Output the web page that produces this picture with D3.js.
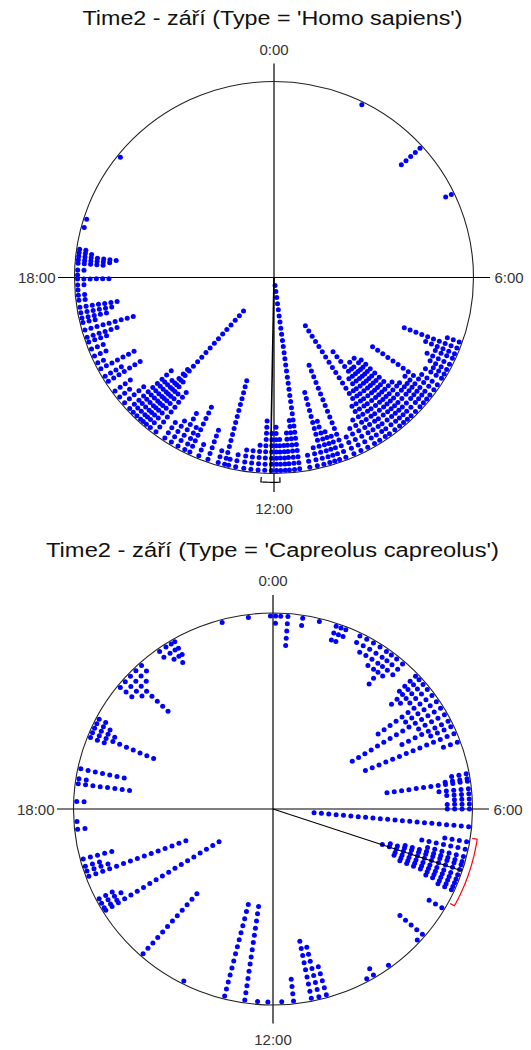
<!DOCTYPE html>
<html>
<head>
<meta charset="utf-8">
<script src="https://cdn.jsdelivr.net/npm/d3@7"></script>
<style>
body { margin: 0; background: #fff; }
text { font-family: 'Liberation Sans', Arial, sans-serif; }
</style>
</head>
<body>
<svg id="chart" width="531" height="1050"></svg>
<script>
var titles = ["Time2 - září (Type = 'Homo sapiens')", "Time2 - září (Type = 'Capreolus capreolus')"]
var hourLabels = ['0:00', '6:00', '12:00', '18:00']
var labelHours = [0, 6, 12, 18]

// Homo sapiens: bin (hour of day) and number of records stacked in it
var humanHours = [1.77, 3.2, 4.3,
    7.3, 7.43, 7.55, 7.65, 7.78, 7.9, 8.0, 8.1, 8.25, 8.37, 8.5, 8.6, 8.7, 8.8, 8.93,
    9.05, 9.15, 9.25, 9.35, 9.47, 9.6, 9.7, 9.83, 9.95, 10.1, 10.25, 10.4, 10.57, 10.7,
    10.8, 10.9, 11.02, 11.15, 11.3, 11.5, 11.6, 11.7, 11.78, 11.87, 11.95,
    12.05, 12.18, 12.31, 12.45, 12.59, 12.75, 12.89, 12.97, 13.1, 13.31, 13.5, 13.69,
    13.8, 13.95, 14.1, 14.25, 14.46, 14.6, 14.7, 14.78, 14.85, 14.95, 15.05, 15.15,
    15.3, 15.45, 15.6, 15.83, 15.95, 16.12, 16.25, 16.4, 16.55, 16.7, 16.8, 16.95,
    17.1, 17.19, 17.3, 17.41, 17.55, 17.65, 17.75, 17.85, 17.97, 18.05, 18.15, 18.28,
    18.35, 18.42, 18.49, 18.56, 19.0, 19.17, 20.57]
var humanCounts = [1, 5, 2,
    3, 10, 6, 4, 5, 4, 3, 4, 4, 13, 6, 5, 6, 7, 13,
    14, 12, 14, 13, 17, 12, 10, 23, 8, 6, 5, 4, 17, 5,
    6, 8, 13, 4, 3, 31, 9, 7, 5, 6, 8,
    7, 9, 5, 4, 4, 3, 2, 15, 3, 6, 3, 9,
    5, 7, 5, 4, 9, 8, 10, 25, 12, 9, 8, 10,
    5, 3, 4, 7, 4, 7, 2, 3, 3, 4, 6, 9,
    3, 5, 6, 7, 2, 2, 1, 2, 6, 1, 2, 5,
    6, 7, 3, 2, 1, 1, 1]

// Capreolus capreolus
var roeHours = [0.05, 0.15, 0.29, 0.58, 0.91, 1.25, 1.35, 1.45, 1.75, 1.9, 2.05, 2.2,
    2.35, 2.47, 2.6, 2.75, 3.1, 3.2, 3.32, 3.45, 3.6, 3.75, 3.9, 4.05, 4.2, 4.32, 4.47,
    4.65, 5.3, 5.4, 5.45, 5.6, 5.7, 5.8, 5.9, 6.0, 6.35, 6.65, 6.8, 6.95, 7.05, 7.12,
    7.22, 7.33, 7.42, 7.5, 7.58, 7.65, 8.05, 8.7, 8.85, 9.6, 9.95, 10.1, 10.95, 11.1,
    11.25, 11.6, 11.83, 12.1, 12.3, 12.55, 12.95, 13.8, 14.76, 15.89, 15.95, 16.05,
    16.15, 16.64, 16.75, 16.85, 17.0, 17.6, 17.75, 18.15, 18.5, 18.6, 18.8, 19.45,
    19.55, 19.65, 19.75, 19.85, 20.6, 20.75, 20.9, 21.05, 21.2, 21.65, 21.8, 21.92,
    22.0, 23.0, 23.52, 23.95]
var roeCounts = [2, 1, 5, 2, 1, 3, 3, 2, 2, 3, 3, 4,
    4, 6, 4, 3, 4, 6, 5, 4, 10, 6, 15, 5, 8, 4, 14,
    3, 3, 4, 12, 5, 4, 3, 4, 4, 22, 4, 7, 6, 9, 11,
    12, 10, 10, 9, 5, 3, 3, 5, 1, 1, 2, 1, 5, 8,
    9, 4, 1, 1, 1, 14, 14, 1, 12, 19, 3, 4,
    3, 15, 4, 3, 5, 2, 1, 2, 8, 2, 7, 3,
    10, 4, 3, 2, 3, 4, 8, 3, 2, 2, 3, 4,
    3, 1, 1, 1]

var meanHours = [12.07, 7.23]
var ciFrom = [11.89, 6.57]
var ciTo = [12.24, 7.9]
var ciColors = ['#000000', '#ff0000']

var svg = d3.select('#chart')
var angle = d3.scaleLinear().domain([0, 24]).range([0, 2 * Math.PI])

var R = 197
var rx = 199.5, ry = 196
var panels = [
    { cx: 274, cy: 277.5, titleY: 25, titleW: 380, step: 6.2, hours: humanHours, counts: humanCounts },
    { cx: 273, cy: 809, titleY: 557, titleW: 453, step: 7.3, hours: roeHours, counts: roeCounts }
]

panels.forEach(function(p, i) {
    var x = d3.scaleLinear().domain([-1, 1]).range([p.cx - rx, p.cx + rx])
    var y = d3.scaleLinear().domain([-1, 1]).range([p.cy + ry, p.cy - ry])
    var g = svg.append('g')

    g.append('text')
        .attr('x', 272.5).attr('y', p.titleY)
        .attr('text-anchor', 'middle')
        .attr('textLength', p.titleW)
        .attr('lengthAdjust', 'spacingAndGlyphs')
        .style('font-size', '20px')
        .attr('fill', '#111')
        .text(titles[i])

    // cross hair
    g.append('line')
        .attr('x1', x(0)).attr('x2', x(0))
        .attr('y1', y(1.092)).attr('y2', y(-1.095))
        .attr('stroke', '#000').attr('stroke-width', 1.2)
    g.append('line')
        .attr('x1', x(-1.083)).attr('x2', x(1.083))
        .attr('y1', y(0)).attr('y2', y(0))
        .attr('stroke', '#000').attr('stroke-width', 1.2)

    g.append('ellipse')
        .attr('cx', x(0)).attr('cy', y(0))
        .attr('rx', rx).attr('ry', ry)
        .attr('fill', 'none').attr('stroke', '#222').attr('stroke-width', 1.1)

    // hour labels
    var lab = g.selectAll('text.hour').data(labelHours).enter().append('text')
        .attr('class', 'hour')
        .style('font-size', '15px')
        .attr('fill', '#333')
        .text(function(d, j) { return hourLabels[j] })
    lab.attr('x', function(d) {
            if (d == 6) return x(1) + 21
            if (d == 18) return x(-1) - 19
            return x(0)
        })
        .attr('y', function(d) {
            if (d == 0) return y(1) - 27
            if (d == 12) return y(-1) + 40
            return y(0) + 5.5
        })
        .attr('text-anchor', function(d) {
            if (d == 6) return 'start'
            if (d == 18) return 'end'
            return 'middle'
        })

    // stacked dots
    var dots = []
    p.hours.forEach(function(h, j) {
        for (var k = 0; k < p.counts[j]; k++) {
            dots.push({ h: h, u: 1 - (3 + k * p.step) / R })
        }
    })
    g.selectAll('circle.dot').data(dots).enter().append('circle')
        .attr('class', 'dot')
        .attr('cx', function(d) { return x(Math.sin(angle(d.h)) * d.u) })
        .attr('cy', function(d) { return y(Math.cos(angle(d.h)) * d.u) })
        .attr('r', 2.5)
        .attr('fill', '#0000ff')

    // mean vector
    var a = angle(meanHours[i])
    g.append('line')
        .attr('x1', x(0)).attr('y1', y(0))
        .attr('x2', x(Math.sin(a))).attr('y2', y(Math.cos(a)))
        .attr('stroke', '#000').attr('stroke-width', i == 0 ? 1.6 : 1.1)

    // confidence interval bracket
    var uArc = i == 0 ? 1.045 : 1.035
    var uTick = i == 0 ? 1.02 : 1.01
    var pts = [[ciFrom[i], uTick]]
    d3.range(ciFrom[i], ciTo[i], 0.02).forEach(function(h) { pts.push([h, uArc]) })
    pts.push([ciTo[i], uArc])
    pts.push([ciTo[i], uTick])
    var bracket = d3.line()
        .x(function(d) { return x(Math.sin(angle(d[0])) * d[1]) })
        .y(function(d) { return y(Math.cos(angle(d[0])) * d[1]) })
    g.append('path')
        .attr('d', bracket(pts))
        .attr('fill', 'none')
        .attr('stroke', ciColors[i]).attr('stroke-width', 1.2)
})
</script>
</body>
</html>
